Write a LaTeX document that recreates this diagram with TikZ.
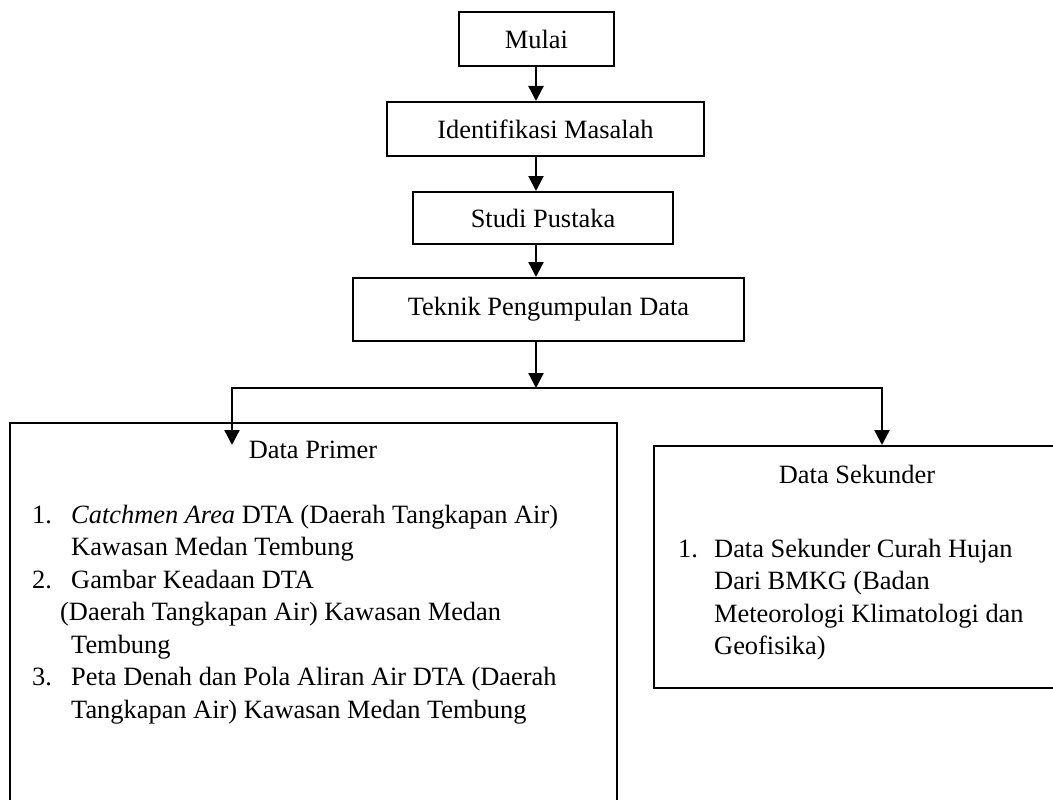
\documentclass[tikz,border=0pt]{standalone}
\usepackage{fontspec}
\setmainfont{Liberation Serif}
\usetikzlibrary{arrows.meta}

\tikzset{
  flowbox/.style={draw, line width=2pt, inner sep=0pt, font=\fontsize{26.4pt}{32.5pt}\selectfont},
  flowarrow/.style={line width=2.4pt, -{Triangle[length=15pt,width=15pt]}},
  flowline/.style={line width=2.4pt, line cap=rect},
  plaintext/.style={inner sep=0pt, font=\fontsize{26.4pt}{32.5pt}\selectfont},
}

\begin{document}
\begin{tikzpicture}[x=1pt,y=-1pt]
\clip (0,0) rectangle (1053,800);

% main steps
\node[flowbox, minimum width=155pt, minimum height=54pt] (mulai) at (536.5,39) {Mulai};
\node[flowbox, minimum width=317pt, minimum height=54pt] (ident) at (545.5,129) {Identifikasi Masalah};
\node[flowbox, minimum width=260pt, minimum height=52pt] (studi) at (543,218) {Studi Pustaka};
\node[flowbox, minimum width=391pt, minimum height=63pt] (teknik) at (548.5,309.5) {Teknik Pengumpulan Data};

% the two data boxes
\node[flowbox, minimum width=607pt, minimum height=387pt] (primer) at (313.5,616.5) {};
\node[flowbox, minimum width=408pt, minimum height=242pt] (sekunder) at (858,567) {};

\node[plaintext] (primertitle) at (313,450) {Data Primer};
\node[plaintext] (sekundertitle) at (857,474) {Data Sekunder};

\node[plaintext, anchor=base west] (primerlist) at (32,523) {%
\begin{tabular}[t]{@{}p{39pt}@{}l@{}}
1. & \textit{Catchmen Area} DTA (Daerah Tangkapan Air)\\
   & Kawasan Medan Tembung\\
2. & Gambar Keadaan DTA\\
\multicolumn{2}{@{}l@{}}{\hspace{28pt}(Daerah Tangkapan Air) Kawasan Medan}\\
   & Tembung\\
3. & Peta Denah dan Pola Aliran Air DTA (Daerah\\
   & Tangkapan Air) Kawasan Medan Tembung
\end{tabular}};

\node[plaintext, anchor=base west] (sekunderlist) at (678,557) {%
\begin{tabular}[t]{@{}p{36pt}@{}l@{}}
1. & Data Sekunder Curah Hujan\\
   & Dari BMKG (Badan\\
   & Meteorologi Klimatologi dan\\
   & Geofisika)
\end{tabular}};

% arrows
\coordinate (axis) at (536,0);
\coordinate (fork) at (536,388);
\coordinate (forkL) at (232,388);
\coordinate (forkR) at (882,388);
\coordinate (primerin) at (232,445);

\draw[flowarrow] (axis |- mulai.south) -- (axis |- ident.north);
\draw[flowarrow] (axis |- ident.south) -- (axis |- studi.north);
\draw[flowarrow] (axis |- studi.south) -- (axis |- teknik.north);
\draw[flowarrow] (axis |- teknik.south) -- (fork);

\draw[flowline] (forkL) -- (forkR);
\draw[flowarrow] (forkL) -- (primerin);
\draw[flowarrow] (forkR) -- (forkR |- sekunder.north);

\end{tikzpicture}
\end{document}
